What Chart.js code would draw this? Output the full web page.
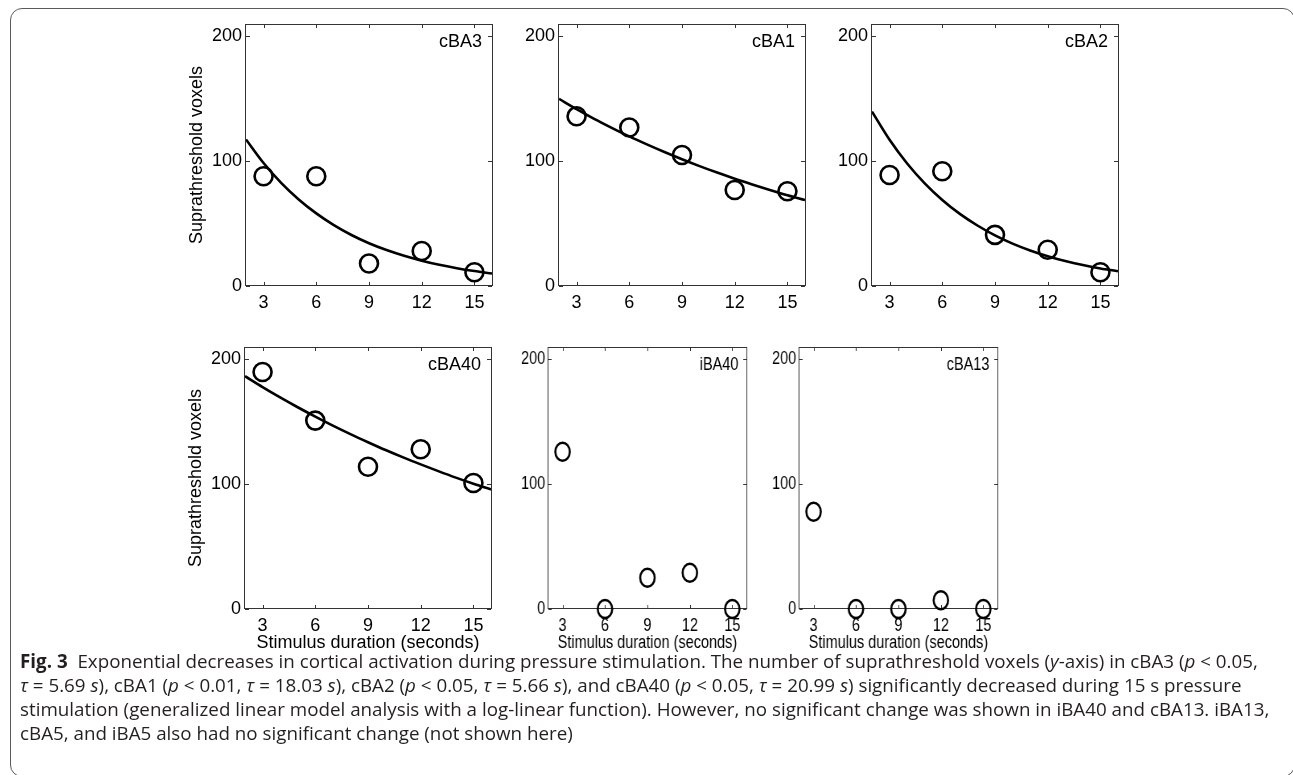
<!DOCTYPE html>
<html><head><meta charset="utf-8">
<script src="https://cdn.jsdelivr.net/npm/chart.js@4.4.1/dist/chart.umd.min.js"></script>
<style>
html,body{margin:0;padding:0;background:#fff;width:1293px;height:775px;overflow:hidden;position:relative}
.frame{position:absolute;left:10px;top:8px;width:1285px;height:769px;border:1px solid #5a5a5a;border-radius:12px;box-sizing:border-box}
.panel{position:absolute;transform-origin:0 0}
.caption{position:absolute;left:20px;top:649px;font-family:"Open Sans";font-size:18.8px;line-height:24px;color:#231f20;white-space:nowrap}
.caption b{font-weight:700}
</style></head><body>
<div class="frame"></div>
<canvas id="c1" class="panel" width="332" height="308" style="left:166px;top:8px"></canvas>
<canvas id="c2" class="panel" width="332" height="308" style="left:479px;top:8px"></canvas>
<canvas id="c3" class="panel" width="332" height="308" style="left:792px;top:8px"></canvas>
<canvas id="c4" class="panel" width="332" height="334" style="left:165px;top:331px"></canvas>
<canvas id="c5" class="panel" width="332" height="334" style="left:483.6px;top:331px;transform:scaleX(0.805)"></canvas>
<canvas id="c6" class="panel" width="332" height="334" style="left:734.6px;top:331px;transform:scaleX(0.805)"></canvas>
<div class="caption">
<div><b>Fig. 3</b>&nbsp;&nbsp;Exponential decreases in cortical activation during pressure stimulation. The number of suprathreshold voxels (<i>y</i>-axis) in cBA3 (<i>p</i> &lt; 0.05,</div>
<div><i>τ</i> = 5.69 <i>s</i>), cBA1 (<i>p</i> &lt; 0.01, <i>τ</i> = 18.03 <i>s</i>), cBA2 (<i>p</i> &lt; 0.05, <i>τ</i> = 5.66 <i>s</i>), and cBA40 (<i>p</i> &lt; 0.05, <i>τ</i> = 20.99 <i>s</i>) significantly decreased during 15 s pressure</div>
<div>stimulation (generalized linear model analysis with a log-linear function). However, no significant change was shown in iBA40 and cBA13. iBA13,</div>
<div>cBA5, and iBA5 also had no significant change (not shown here)</div>
</div>
<script>
// ---- data ----
const durations = [3, 6, 9, 12, 15];
const xTickValues = [3, 6, 9, 12, 15];
const yTickValues = [0, 100, 200];
const regionNames = ['cBA3', 'cBA1', 'cBA2', 'cBA40', 'iBA40', 'cBA13'];
const voxels_cBA3 = [88, 88, 18, 28, 11];
const voxels_cBA1 = [136, 127, 105, 77, 76];
const voxels_cBA2 = [89, 92, 41, 29, 11];
const voxels_cBA40 = [190, 151, 114, 128, 101];
const voxels_iBA40 = [126, 0, 25, 29, 0];
const voxels_cBA13 = [78, 0, 0, 7, 0];
const fitX = [2, 3, 4, 5, 6, 7, 8, 9, 10, 11, 12, 13, 14, 15, 16];
const fit_cBA3 = [117.5, 98.6, 82.7, 69.4, 58.2, 48.8, 40.9, 34.3, 28.8, 24.2, 20.3, 17.0, 14.3, 12.0, 10.0];
const fit_cBA1 = [150.0, 141.7, 134.0, 126.8, 119.9, 113.5, 107.4, 101.6, 96.1, 90.9, 86.0, 81.4, 77.0, 72.8, 68.9];
const fit_cBA2 = [139.8, 117.2, 98.2, 82.3, 69.0, 57.8, 48.5, 40.6, 34.0, 28.5, 23.9, 20.0, 16.8, 14.1, 11.8];
const fit_cBA40 = [186.6, 177.9, 169.6, 161.7, 154.2, 147.0, 140.2, 133.7, 127.4, 121.5, 115.9, 110.5, 105.3, 100.4, 95.8];
const xTitle = 'Stimulus duration (seconds)';
const yTitle = 'Suprathreshold voxels';

// ---- drawing ----
const FONT = 'Liberation Sans';
const boxPlugin = {
  id: 'boxPlugin',
  beforeDatasetsDraw(chart) {
    const {ctx, chartArea: a, scales} = chart;
    ctx.save();
    ctx.strokeStyle = '#333';
    ctx.lineWidth = 1;
    ctx.strokeRect(Math.round(a.left) - 0.5, Math.round(a.top) + 0.5, Math.round(a.right - a.left) + 1, Math.round(a.bottom - a.top) - 1);
    ctx.beginPath();
    for (const v of xTickValues) {
      const px = Math.round(scales.x.getPixelForValue(v)) + 0.5;
      ctx.moveTo(px, a.bottom); ctx.lineTo(px, a.bottom - 4);
      ctx.moveTo(px, a.top); ctx.lineTo(px, a.top + 4);
    }
    for (const v of yTickValues) {
      const py = Math.round(scales.y.getPixelForValue(v)) + 0.5;
      ctx.moveTo(a.left, py); ctx.lineTo(a.left + 4, py);
      ctx.moveTo(a.right, py); ctx.lineTo(a.right - 4, py);
    }
    ctx.stroke();
    ctx.restore();
  },
  afterDraw(chart) {
    const {ctx, chartArea: a} = chart;
    ctx.save();
    ctx.font = '18px "' + FONT + '"';
    ctx.fillStyle = '#000';
    ctx.textAlign = 'right';
    ctx.textBaseline = 'middle';
    ctx.fillText(chart.options.plugins.boxPlugin.label, a.right - 10, a.top + 18);
    ctx.restore();
  }
};

function makeChart(id, name, voxels, fit, showY, showX) {
  const datasets = [];
  if (fit) {
    datasets.push({
      type: 'line',
      data: fitX.map((x, i) => ({x, y: fit[i]})),
      borderColor: '#000', borderWidth: 2.6, pointRadius: 0,
      cubicInterpolationMode: 'monotone', fill: false, clip: 0
    });
  }
  datasets.push({
    type: 'scatter',
    data: durations.map((x, i) => ({x, y: voxels[i]})),
    pointStyle: 'circle', pointRadius: 9, pointBorderWidth: 2.6,
    borderColor: '#000', pointBorderColor: '#000',
    backgroundColor: 'rgba(0,0,0,0)', pointBackgroundColor: 'rgba(0,0,0,0)',
    showLine: false, clip: false
  });
  new Chart(document.getElementById(id), {
    type: 'scatter',
    data: {datasets},
    options: {
      responsive: false, animation: false, devicePixelRatio: 1,
      events: [],
      layout: {autoPadding: false, padding: {top: 16, right: 6, left: 0, bottom: 0}},
      plugins: {legend: {display: false}, tooltip: {enabled: false}, boxPlugin: {label: name}},
      scales: {
        x: {
          type: 'linear', min: 2, max: 16,
          afterBuildTicks: s => { s.ticks = xTickValues.map(v => ({value: v})); },
          afterFit: s => { s.height = showX ? 56 : 30; },
          grid: {display: false, drawTicks: false}, border: {display: false},
          ticks: {padding: 6, color: '#000', maxRotation: 0, autoSkip: false, font: {family: FONT, size: 18}},
          title: {display: showX, text: xTitle, color: '#000', font: {family: FONT, size: 18}, padding: {top: 0, bottom: 11}}
        },
        y: {
          type: 'linear', min: 0, max: 210,
          afterBuildTicks: s => { s.ticks = yTickValues.map(v => ({value: v})); },
          afterFit: s => { s.width = 80; },
          grid: {display: false, drawTicks: false}, border: {display: false},
          ticks: {padding: 4, color: '#000', font: {family: FONT, size: 18}},
          title: {display: showY, text: yTitle, color: '#000', font: {family: FONT, size: 18}, padding: {top: 20, bottom: 0}}
        }
      }
    },
    plugins: [boxPlugin]
  });
}

makeChart('c1', regionNames[0], voxels_cBA3, fit_cBA3, true, false);
makeChart('c2', regionNames[1], voxels_cBA1, fit_cBA1, false, false);
makeChart('c3', regionNames[2], voxels_cBA2, fit_cBA2, false, false);
makeChart('c4', regionNames[3], voxels_cBA40, fit_cBA40, true, true);
makeChart('c5', regionNames[4], voxels_iBA40, null, false, true);
makeChart('c6', regionNames[5], voxels_cBA13, null, false, true);
</script>
</body></html>
